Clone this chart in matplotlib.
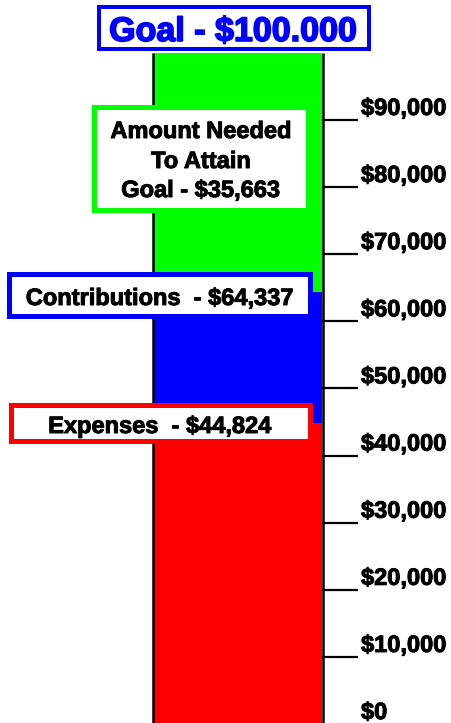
import matplotlib
matplotlib.use("Agg")
import matplotlib.pyplot as plt
import matplotlib.patheffects as pe
from matplotlib.patches import Rectangle
from matplotlib.transforms import Affine2D, offset_copy

plt.rcParams['font.family'] = ['Liberation Sans', 'DejaVu Sans']

# ---- data ----
segments = ["Expenses", "Contributions", "Amount Needed"]
segment_values = [44824, 64337 - 44824, 100000 - 64337]
segment_colors = ["#FF0000", "#0000FF", "#00FF00"]
goal = 100000
tick_values = [0, 10000, 20000, 30000, 40000, 50000, 60000, 70000, 80000, 90000]
tick_labels = ["$0", "$10,000", "$20,000", "$30,000", "$40,000",
               "$50,000", "$60,000", "$70,000", "$80,000", "$90,000"]
goal_text = "Goal - $100.000"
needed_lines = ["Amount Needed", "To Attain", "Goal - $35,663"]
contrib_text = "Contributions  - $64,337"
expense_text = "Expenses  - $44,824"

W, H = 451, 723
fig = plt.figure(figsize=(W / 100, H / 100), dpi=100)
fig.patch.set_facecolor("white")

# axes covering whole figure; x in pixels, y in dollars
PX_PER_1000 = 6.7125
Y0 = 724.1
def val(p):
    return (Y0 - p) / PX_PER_1000 * 1000

ax = fig.add_axes([0, 0, 1, 1])
ax.set_xlim(0, W)
ax.set_ylim(val(H), val(0))
ax.axis("off")

# pixel transform (origin top-left)
px = Affine2D().scale(1 / W, -1 / H).translate(0, 1) + fig.transFigure

def heavy(color, w=0.7):
    return [pe.Stroke(linewidth=w, foreground=color), pe.Normal()]

# stacked bar
bar_left, bar_right = 154, 322
bottom = 0
for v, c in zip(segment_values, segment_colors):
    ax.bar((bar_left + bar_right) / 2, v, width=bar_right - bar_left, bottom=bottom,
           color=c, edgecolor="none", zorder=1)
    bottom += v

# bar outline lines
ax.vlines([152.8, 323], 0, goal, colors="black", linewidth=1.8, zorder=2)

# ticks and labels
ax.hlines(tick_values, 322, 358, colors="black", linewidth=1.6, zorder=2)
lbl_tr = offset_copy(ax.transData, fig=fig, x=0, y=5, units="dots")
for tv, tl in zip(tick_values, tick_labels):
    ax.text(361, tv, tl, transform=lbl_tr, ha="left", va="baseline",
            fontsize=17, fontweight="bold", color="black", zorder=3,
            path_effects=heavy("black"))

def box(x0, y0, x1, y1, w, ec):
    r = Rectangle((x0 + w / 2, y0 + w / 2), (x1 - x0) - w, (y1 - y0) - w,
                  transform=px, facecolor="white", edgecolor=ec,
                  linewidth=w * 0.72, zorder=4)
    fig.add_artist(r)

def label(x, y, s, size, color="black", w=0.7):
    fig.text(x, y, s, transform=px, ha="center", va="baseline",
             fontsize=size, fontweight="bold", color=color, zorder=5,
             path_effects=heavy(color, w))

# goal box
box(97, 5, 371, 51, 4, "#0000FF")
label(233, 41, goal_text, 24.5, "#0000FF", 1.2)

# amount needed box
box(91, 104, 310, 212, 5, "#00FF00")
for yb, s in zip([138, 168, 197], needed_lines):
    label(201, yb, s, 17)

# contributions box
box(6, 271, 312, 318, 5, "#0000FF")
label(160, 305, contrib_text, 17)

# expenses box
box(8, 402, 312, 443, 5, "#FF0000")
label(160, 433, expense_text, 17)

fig.savefig("out.png", dpi=100, facecolor="white")
